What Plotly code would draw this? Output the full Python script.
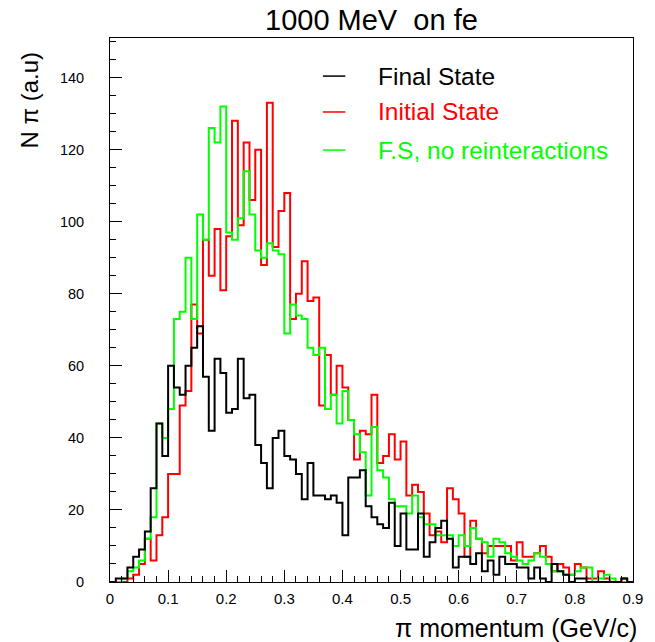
import numpy as np
import plotly.graph_objects as go

# ---- data: 90 bins of width 0.01 GeV/c from 0 to 0.9 ----
bin_lo = 0.0
bin_width = 0.01
n_bins = 90

final_state = [0, 1, 1, 4, 7, 9, 14, 26, 44, 35,
               60, 54, 52, 60, 65, 71, 57, 42, 62, 58,
               47, 48, 62, 51, 52, 38, 33, 26, 40, 42,
               35, 34, 30, 23, 33, 24, 24, 23, 24, 22,
               13, 29, 29, 31, 21, 18, 16, 15, 22, 10,
               19, 9, 9, 19, 7, 11, 15, 17, 12, 4,
               7, 7, 5, 8, 3, 6, 2, 7, 5, 5,
               4, 4, 1, 4, 1, 0, 5, 3, 2, 0,
               1, 1, 0, 0, 0, 0, 0, 0, 1, 0]

initial_state = [0, 0, 0, 1, 2, 5, 12, 6, 13, 18,
                 30, 30, 49, 53, 77, 69, 95, 85, 98, 81,
                 96, 128, 99, 122, 106, 120, 88, 133, 93, 103,
                 108, 73, 80, 89, 78, 79, 49, 63, 52, 60,
                 54, 45, 34, 42, 41, 52, 33, 35, 41, 34,
                 39, 24, 27, 25, 19, 13, 14, 11, 26, 23,
                 19, 7, 17, 12, 8, 10, 10, 10, 10, 6,
                 11, 7, 7, 8, 10, 7, 3, 5, 4, 2,
                 5, 4, 1, 1, 3, 1, 0, 0, 1, 0]

fs_no_reint = [0, 0, 1, 3, 4, 6, 12, 18, 44, 40,
               48, 73, 75, 90, 73, 102, 95, 126, 122, 132,
               97, 95, 101, 114, 102, 92, 90, 94, 92, 91,
               69, 77, 74, 73, 65, 63, 65, 48, 52, 44,
               53, 45, 41, 36, 24, 43, 31, 29, 23, 21,
               21, 19, 24, 18, 16, 16, 13, 13, 13, 10,
               13, 10, 15, 12, 11, 7, 12, 11, 8, 7,
               6, 5, 6, 8, 7, 5, 3, 3, 2, 2,
               3, 4, 4, 0, 1, 2, 1, 0, 0, 0]

series_names = ["Final State", "Initial State", "F.S, no reinteractions"]
series_colors = ["#000000", "#ff0000", "#00ff00"]

x_tick_vals = [0, 0.1, 0.2, 0.3, 0.4, 0.5, 0.6, 0.7, 0.8, 0.9]
x_tick_text = ["0", "0.1", "0.2", "0.3", "0.4", "0.5", "0.6", "0.7", "0.8", "0.9"]
y_tick_vals = [0, 20, 40, 60, 80, 100, 120, 140]

edges = np.round(bin_lo + bin_width * np.arange(n_bins + 1), 4)


def step_xy(vals):
    x = list(edges)
    y = list(vals) + [vals[-1]]
    return x, y


fig = go.Figure()
draw_order = [1, 2, 0]  # red, green, then black on top
all_series = [final_state, initial_state, fs_no_reint]
for k in draw_order:
    x, y = step_xy(all_series[k])
    fig.add_trace(go.Scatter(
        x=x, y=y, mode="lines", line=dict(color=series_colors[k], width=2, shape="hv"),
        name=series_names[k], showlegend=False, hoverinfo="skip"))

font_family = "Liberation Sans, Arial, Helvetica, sans-serif"

fig.update_layout(
    width=655, height=642,
    margin=dict(l=110, r=14, t=38, b=60),
    paper_bgcolor="white", plot_bgcolor="white",
    font=dict(family=font_family, color="black", size=14),
    showlegend=False,
)

fig.update_xaxes(
    range=[0, 0.9], showgrid=False, zeroline=False,
    showline=True, linecolor="black", linewidth=1, mirror=True,
    ticks="inside", ticklen=12, tickwidth=1, tickcolor="black",
    tickmode="array", tickvals=x_tick_vals, ticktext=x_tick_text,
    minor=dict(ticks="inside", ticklen=6, dtick=0.02, tick0=0, tickcolor="black", showgrid=False),
    tickfont=dict(size=15), ticklabelstandoff=3,
)
fig.update_yaxes(
    range=[0, 151], showgrid=False, zeroline=False,
    showline=True, linecolor="black", linewidth=1, mirror=True,
    ticks="inside", ticklen=12, tickwidth=1, tickcolor="black",
    tickmode="array", tickvals=y_tick_vals,
    minor=dict(ticks="inside", ticklen=6, dtick=5, tick0=0, tickcolor="black", showgrid=False),
    tickfont=dict(size=14.5), ticklabelstandoff=22,
)

annotations = [
    dict(text="1000 MeV  on fe", x=0.5, y=1.0, xref="paper", yref="paper", yshift=18,
         showarrow=False, font=dict(size=29), xanchor="center", yanchor="middle"),
    dict(text="π momentum (GeV/c)", x=1.0, xref="paper", y=0, yref="paper", xshift=6,
         yshift=-46, showarrow=False, font=dict(size=25), xanchor="right", yanchor="middle"),
    dict(text="N π (a.u)", x=0, xref="paper", xshift=-80, y=0.885, yref="paper",
         textangle=-90, showarrow=False, font=dict(size=24), xanchor="center", yanchor="middle"),
]

legend_y = [0.930, 0.864, 0.794]
shapes = []
for k in range(3):
    shapes.append(dict(type="line", xref="paper", yref="paper", x0=0.407, x1=0.450,
                       y0=legend_y[k], y1=legend_y[k], line=dict(color=series_colors[k], width=1.5)))
    annotations.append(dict(text=series_names[k], x=0.509, y=legend_y[k], xref="paper", yref="paper",
                            showarrow=False, xanchor="left", yanchor="middle",
                            font=dict(size=24.5, color=series_colors[k])))

fig.update_layout(annotations=annotations, shapes=shapes)
fig.write_html("out.html")
